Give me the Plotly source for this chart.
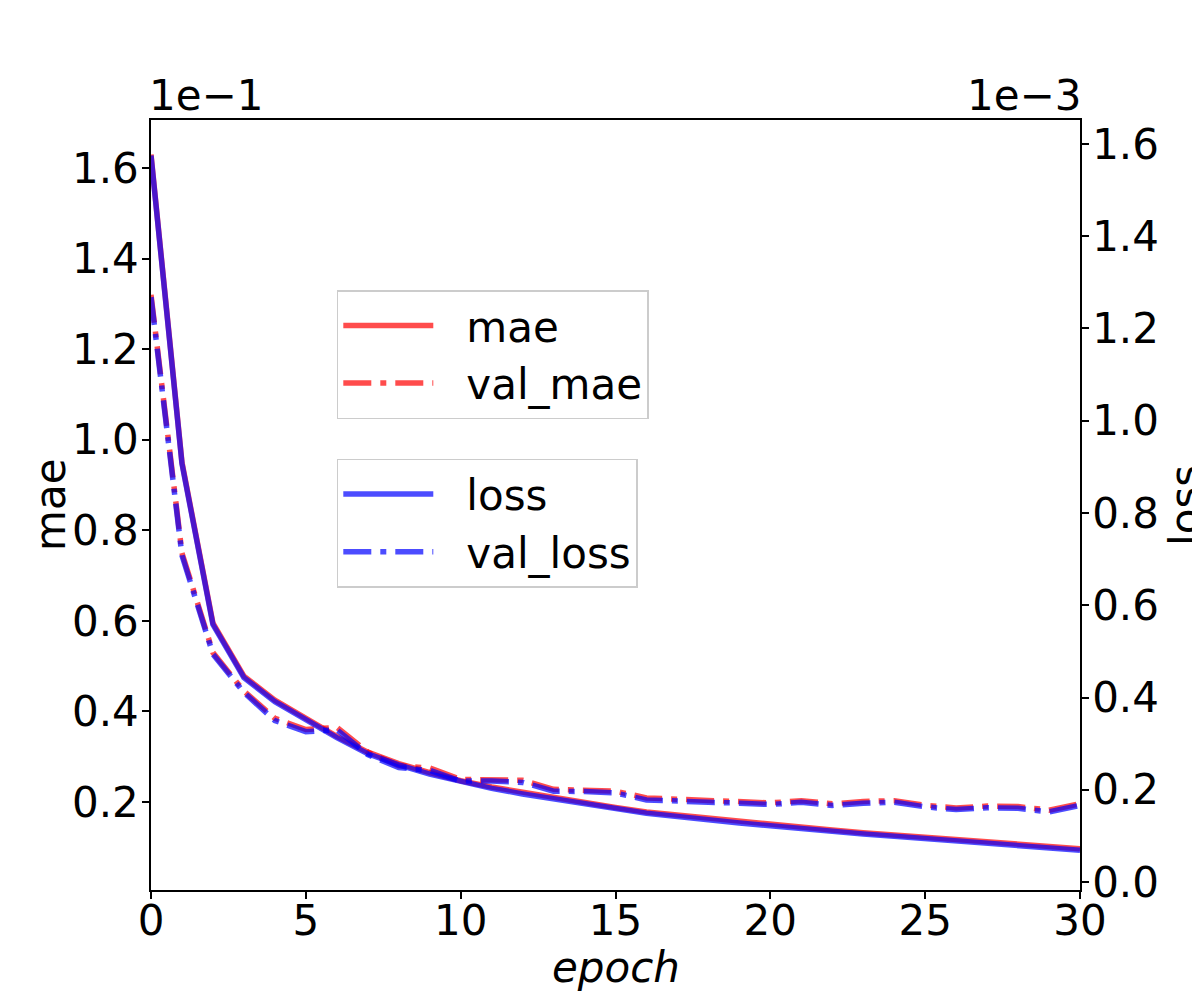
import plotly.graph_objects as go

# Trainingsverlauf
epochs = list(range(31))
mae = [0.163, 0.095, 0.0595, 0.0478, 0.0425, 0.0385, 0.0345, 0.031, 0.0285, 0.0265,
       0.0247, 0.0233, 0.0221, 0.021, 0.0198, 0.0188, 0.0178, 0.0171, 0.0163, 0.0157,
       0.0151, 0.0144, 0.0138, 0.0132, 0.0127, 0.0122, 0.0117, 0.0112, 0.0109, 0.0102,
       0.0097]
val_mae = [0.132, 0.075, 0.053, 0.0445, 0.0385, 0.036, 0.0365, 0.031, 0.028, 0.0275,
           0.025, 0.025, 0.0248, 0.0228, 0.0227, 0.0224, 0.0209, 0.0207, 0.0203, 0.0201,
           0.0198, 0.0203, 0.0196, 0.0201, 0.0203, 0.0193, 0.0187, 0.0191, 0.019, 0.0182,
           0.0196]
loss = [1.575e-3, 0.907e-3, 0.558e-3, 0.443e-3, 0.391e-3, 0.352e-3, 0.313e-3, 0.278e-3,
        0.254e-3, 0.234e-3, 0.217e-3, 0.203e-3, 0.191e-3, 0.180e-3, 0.168e-3, 0.159e-3,
        0.149e-3, 0.142e-3, 0.134e-3, 0.128e-3, 0.122e-3, 0.115e-3, 0.110e-3, 0.104e-3,
        0.099e-3, 0.094e-3, 0.089e-3, 0.084e-3, 0.081e-3, 0.074e-3, 0.069e-3]
val_loss = [1.268e-3, 0.708e-3, 0.494e-3, 0.411e-3, 0.350e-3, 0.326e-3, 0.330e-3, 0.276e-3,
            0.248e-3, 0.242e-3, 0.219e-3, 0.219e-3, 0.216e-3, 0.197e-3, 0.196e-3, 0.193e-3,
            0.178e-3, 0.177e-3, 0.173e-3, 0.171e-3, 0.168e-3, 0.173e-3, 0.166e-3, 0.171e-3,
            0.173e-3, 0.163e-3, 0.157e-3, 0.161e-3, 0.160e-3, 0.152e-3, 0.166e-3]

x_ticks = [0, 5, 10, 15, 20, 25, 30]
mae_ticks = [0.02, 0.04, 0.06, 0.08, 0.10, 0.12, 0.14, 0.16]
mae_ticktext = ['0.2', '0.4', '0.6', '0.8', '1.0', '1.2', '1.4', '1.6']
loss_ticks = [0.0, 0.2e-3, 0.4e-3, 0.6e-3, 0.8e-3, 1.0e-3, 1.2e-3, 1.4e-3, 1.6e-3]
loss_ticktext = ['0.0', '0.2', '0.4', '0.6', '0.8', '1.0', '1.2', '1.4', '1.6']

RED = 'rgba(255,0,0,0.7)'
BLUE = 'rgba(0,0,255,0.7)'
DASHDOT = '28px,9px,6px,9px'
FONT = 'DejaVu Sans'
FS = 42
LW = 5.5
PAD = '\u2002\u2006'  # Abstand zwischen Linie und Text in der Legende

fig = go.Figure()

fig.add_trace(go.Scatter(x=epochs, y=mae, name=PAD + 'mae', mode='lines',
                         line=dict(color=RED, width=LW), legend='legend'))
fig.add_trace(go.Scatter(x=epochs, y=val_mae, name=PAD + 'val_mae', mode='lines',
                         line=dict(color=RED, width=LW, dash=DASHDOT), legend='legend'))
fig.add_trace(go.Scatter(x=epochs, y=loss, name=PAD + 'loss', mode='lines', yaxis='y2',
                         line=dict(color=BLUE, width=LW), legend='legend2'))
fig.add_trace(go.Scatter(x=epochs, y=val_loss, name=PAD + 'val_loss', mode='lines', yaxis='y2',
                         line=dict(color=BLUE, width=LW, dash=DASHDOT), legend='legend2'))

axis_common = dict(showgrid=False, zeroline=False, showline=True, linecolor='black',
                   linewidth=1.5, ticks='outside', ticklen=7, tickwidth=1.5,
                   tickcolor='black', automargin=False,
                   tickfont=dict(family=FONT, size=FS, color='black'))

legend_common = dict(xanchor='left', yanchor='top', bgcolor='rgba(255,255,255,0.8)',
                     bordercolor='#cccccc', borderwidth=1.5,
                     font=dict(family=FONT, size=FS), itemwidth=90, tracegroupgap=0)

fig.update_layout(
    width=1200, height=1000,
    paper_bgcolor='white', plot_bgcolor='white',
    margin=dict(l=143, r=128, t=112, b=118),
    font=dict(family=FONT, size=FS, color='black'),
    xaxis=dict(range=[0, 30], tickvals=x_ticks, mirror=True, ticklabelstandoff=-14,
               **axis_common),
    yaxis=dict(range=[0.00057, 0.1706], tickvals=mae_ticks, ticktext=mae_ticktext,
               ticklabelstandoff=-5, **axis_common),
    yaxis2=dict(range=[-0.0000173, 0.001652], tickvals=loss_ticks, ticktext=loss_ticktext,
                overlaying='y', side='right', ticklabelstandoff=-5, **axis_common),
    legend=dict(x=0.2, y=0.779, **legend_common),
    legend2=dict(x=0.2, y=0.56, **legend_common),
    annotations=[
        dict(text='1e\u22121', xref='paper', yref='paper', x=0, y=1, xanchor='left',
             yanchor='bottom', showarrow=False, font=dict(family=FONT, size=FS),
             xshift=-4, yshift=-2),
        dict(text='1e\u22123', xref='paper', yref='paper', x=1, y=1, xanchor='right',
             yanchor='bottom', showarrow=False, font=dict(family=FONT, size=FS),
             xshift=3, yshift=-2),
        dict(text='mae', xref='paper', yref='paper', x=-0.1087, y=0.5, xanchor='center',
             yanchor='middle', showarrow=False, textangle=-90,
             font=dict(family=FONT, size=FS)),
        dict(text='loss', xref='paper', yref='paper', x=1.113, y=0.5, xanchor='center',
             yanchor='middle', showarrow=False, textangle=-90,
             font=dict(family=FONT, size=FS)),
        dict(text='<i>epoch</i>', xref='paper', yref='paper', x=0.5, y=-0.101,
             xanchor='center', yanchor='middle', showarrow=False,
             font=dict(family=FONT, size=FS)),
    ],
)

fig.write_html("out.html")
